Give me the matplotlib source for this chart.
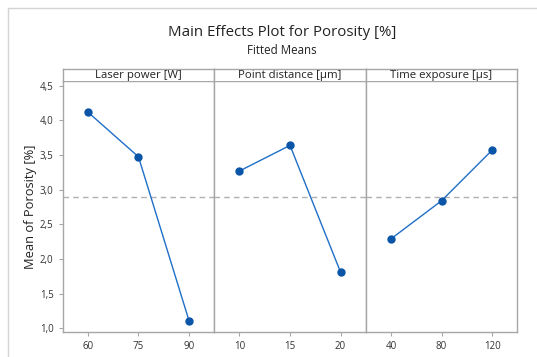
import matplotlib
matplotlib.use("Agg")
import matplotlib.pyplot as plt
from matplotlib.lines import Line2D
from matplotlib.ticker import FuncFormatter

# data
factors = ["Laser power [W]", "Point distance [\u00b5m]", "Time exposure [\u00b5s]"]
levels = [["60", "75", "90"], ["10", "15", "20"], ["40", "80", "120"]]
means = [[4.12, 3.475, 1.11], [3.27, 3.64, 1.81], [2.29, 2.84, 3.57]]
grand_mean = 2.90
y_ticks = [1.0, 1.5, 2.0, 2.5, 3.0, 3.5, 4.0, 4.5]

plt.rcParams["font.family"] = ["Open Sans", "DejaVu Sans"]
frame_col = "#a6a6a6"
line_col = "#1f6fc8"
dot_col = "#0a55a8"

fig = plt.figure(figsize=(5.37, 3.57), dpi=100)

# light border of the graph region (cropped at right/bottom)
fig.add_artist(Line2D([8/537, 1], [1 - 8/357, 1 - 8/357], color="#d4d4d4", lw=1))
fig.add_artist(Line2D([8/537, 8/537], [0, 1 - 8/357], color="#d4d4d4", lw=1))

fig.text(282/537, 1 - 33/357, "Main Effects Plot for Porosity [%]", ha="center", va="center",
         fontsize=10.8, color="#222222")
fig.text(282/537, 1 - 50/357, "Fitted Means", ha="center", va="center", fontsize=8.3, color="#222222")

left, right = 62.7/537, 517.3/537
bottom, top = (357 - 332.3)/357, (357 - 81)/357
strip_h = 12/357
w = (right - left) / 3

axes = []
for i in range(3):
    ax = fig.add_axes([left + i*w, bottom, w, top - bottom])
    x = range(len(levels[i]))
    ax.axhline(grand_mean, color="#b0b0b0", ls=(0, (4, 3)), lw=1, zorder=1)
    ax.plot(x, means[i], color=line_col, lw=1, zorder=2)
    ax.plot(x, means[i], "o", color=dot_col, ms=5, zorder=3)
    ax.set_xlim(-0.5, 2.5)
    ax.set_ylim(0.94, 4.57)
    ax.set_xticks(list(x))
    ax.set_xticklabels(levels[i])
    ax.set_yticks(y_ticks)
    ax.yaxis.set_major_formatter(FuncFormatter(lambda v, p: f"{v:.1f}".replace(".", ",")))
    for s in ax.spines.values():
        s.set_color(frame_col)
        s.set_linewidth(1.0)
    ax.tick_params(colors=frame_col, labelcolor="#333333", labelsize=7, length=3, width=0.8)
    if i > 0:
        ax.tick_params(axis="y", left=False, labelleft=False)
    axes.append(ax)

    # strip with factor name
    sax = fig.add_axes([left + i*w, top, w, strip_h])
    sax.set_xticks([])
    sax.set_yticks([])
    for s in sax.spines.values():
        s.set_color(frame_col)
        s.set_linewidth(1.0)
    sax.spines["bottom"].set_visible(False)
    sax.text(0.5, 0.45, factors[i], ha="center", va="center", fontsize=8.2, color="#222222",
             transform=sax.transAxes)

axes[0].set_ylabel("Mean of Porosity [%]", fontsize=9.3, color="#222222", labelpad=2)

fig.savefig("out.png", dpi=100)
